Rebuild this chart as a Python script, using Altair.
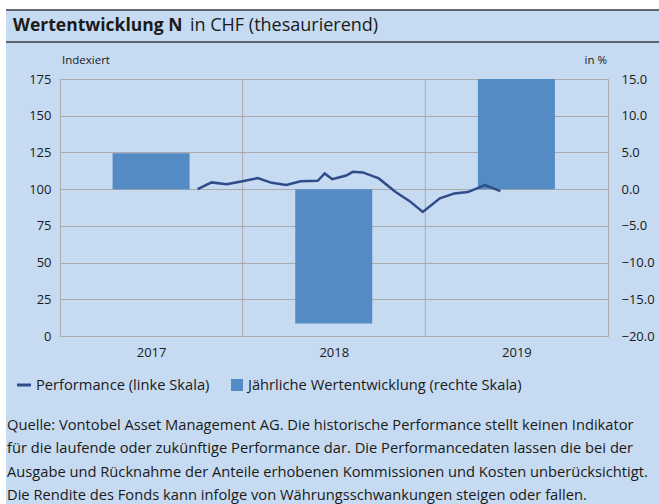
import altair as alt
import pandas as pd

# ---- data ----
years = [2017, 2018, 2019]
annual_pct = [4.9, -18.3, 15.0]

perf_dates = ["2017-10-03", "2017-10-31", "2017-11-30", "2017-12-29", "2018-01-31",
              "2018-02-28", "2018-03-29", "2018-04-27", "2018-05-31", "2018-06-14",
              "2018-06-29", "2018-07-27", "2018-08-09", "2018-08-29", "2018-09-30",
              "2018-11-02", "2018-11-30", "2018-12-27", "2019-01-30", "2019-02-28",
              "2019-03-27", "2019-04-30", "2019-05-31"]
perf_index = [100.0, 104.6, 103.4, 105.2, 107.5, 104.3, 102.9, 105.4, 105.7, 110.7,
              106.8, 109.3, 111.8, 111.4, 107.3, 98.2, 92.0, 84.5, 93.7, 97.1,
              98.0, 102.7, 98.6]

left_ticks = [0, 25, 50, 75, 100, 125, 150, 175]
right_ticks = [-20, -15, -10, -5, 0, 5, 10, 15]

title_bold = "Wertentwicklung N"
title_rest = "in CHF (thesaurierend)"
left_unit = "Indexiert"
right_unit = "in %"
legend_line = "Performance (linke Skala)"
legend_bar = "Jährliche Wertentwicklung (rechte Skala)"
footer = [
    "Quelle: Vontobel Asset Management AG. Die historische Performance stellt keinen Indikator",
    "für die laufende oder zukünftige Performance dar. Die Performancedaten lassen die bei der",
    "Ausgabe und Rücknahme der Anteile erhobenen Kommissionen und Kosten unberücksichtigt.",
    "Die Rendite des Fonds kann infolge von Währungsschwankungen steigen oder fallen.",
]

BG = "#c6dbf1"
BAR = "#548bc4"
LINE = "#2f4b8a"
GRID = "#aaaaaa"
TXT = "#1a1a1a"
FONT = "Open Sans"

bars_df = pd.DataFrame({"date": [f"{y}-07-02" for y in years], "pct": annual_pct})
line_df = pd.DataFrame({"date": perf_dates, "index": perf_index})
bounds_df = pd.DataFrame({"date": [f"{y}-01-01" for y in years[1:]]})
one = pd.DataFrame({"a": [0]})

x_scale = alt.Scale(domain=[alt.DateTime(year=2017, month=1, date=1, utc=True),
                            alt.DateTime(year=2020, month=1, date=1, utc=True)],
                    padding=0)
x_axis = alt.Axis(values=[alt.DateTime(year=y, month=7, date=2, utc=True) for y in years],
                  format="%Y", grid=False, ticks=False, domain=False, title=None,
                  labelFontSize=13, labelColor=TXT, labelPadding=10, labelFont=FONT)

vgrid = alt.Chart(bounds_df).mark_rule(color=GRID, strokeWidth=1).encode(
    x=alt.X("date:T", scale=x_scale, axis=x_axis)
)

bars = alt.Chart(bars_df).mark_bar(color=BAR, size=77).encode(
    x=alt.X("date:T", scale=x_scale, axis=x_axis),
    y=alt.Y("pct:Q", scale=alt.Scale(domain=[-20, 15], nice=False),
            axis=alt.Axis(orient="right", values=right_ticks, format=".1f", grid=False,
                          ticks=False, domain=False, title=None, labelFontSize=13,
                          labelColor=TXT, labelPadding=13, labelFont=FONT)),
)

line = alt.Chart(line_df).mark_line(color=LINE, strokeWidth=2.5).encode(
    x=alt.X("date:T", scale=x_scale, axis=x_axis),
    y=alt.Y("index:Q", scale=alt.Scale(domain=[0, 175], nice=False),
            axis=alt.Axis(orient="left", values=left_ticks, grid=True, gridColor=GRID,
                          gridWidth=1, ticks=False, domain=False, title=None,
                          labelFontSize=13, labelColor=TXT, labelPadding=9,
                          labelFont=FONT)),
)

def txt(text, x, y, size=13, weight="normal", align="left"):
    return alt.Chart(one).mark_text(text=text, align=align, baseline="alphabetic",
                                    fontSize=size, fontWeight=weight, font=FONT,
                                    color=TXT).encode(x=alt.value(x), y=alt.value(y))

# decorations (white page edges, title band lines)
white_left = alt.Chart(one).mark_rect(color="white").encode(
    x=alt.value(-60), x2=alt.value(-54), y=alt.value(-79), y2=alt.value(430))
white_top = alt.Chart(one).mark_rect(color="white").encode(
    x=alt.value(-60), x2=alt.value(600), y=alt.value(-79), y2=alt.value(-69.5))
rule_top = alt.Chart(one).mark_rule(color="#3c3f47", strokeWidth=1.6).encode(
    x=alt.value(-54), x2=alt.value(600), y=alt.value(-69))
rule_bot = alt.Chart(one).mark_rule(color="#3c3f47", strokeWidth=1.6).encode(
    x=alt.value(-54), x2=alt.value(600), y=alt.value(-37))

leg_line = alt.Chart(one).mark_rule(color=LINE, strokeWidth=3).encode(
    x=alt.value(-43), x2=alt.value(-29), y=alt.value(306))
leg_sq = alt.Chart(one).mark_rect(color=BAR).encode(
    x=alt.value(171), x2=alt.value(183), y=alt.value(300), y2=alt.value(312))

foot = alt.Chart(one).mark_text(text=footer, align="left", baseline="alphabetic",
                                fontSize=14.7, font=FONT, color=TXT,
                                lineHeight=23.3).encode(x=alt.value(-53), y=alt.value(351))

chart = alt.layer(
    vgrid, bars, line,
    white_left, white_top, rule_top, rule_bot,
    txt(title_bold, -47, -48, size=17.5, weight="bold"),
    txt(title_rest, 130, -48, size=18),
    txt(left_unit, 2, -15, size=11.5),
    txt(right_unit, 547, -15, size=11.5, align="right"),
    leg_line, leg_sq,
    txt(legend_line, -24, 311, size=14.7),
    txt(legend_bar, 188, 311, size=14.7),
    foot,
).resolve_scale(y="independent").properties(
    width=548, height=257,
    background=BG,
    padding={"left": 60, "top": 79, "right": 51, "bottom": 168},
    autosize=alt.AutoSizeParams(type="none"),
).configure_view(stroke=GRID, strokeWidth=1)

chart.save("out.html", embed_options={"renderer": "svg", "actions": False})
